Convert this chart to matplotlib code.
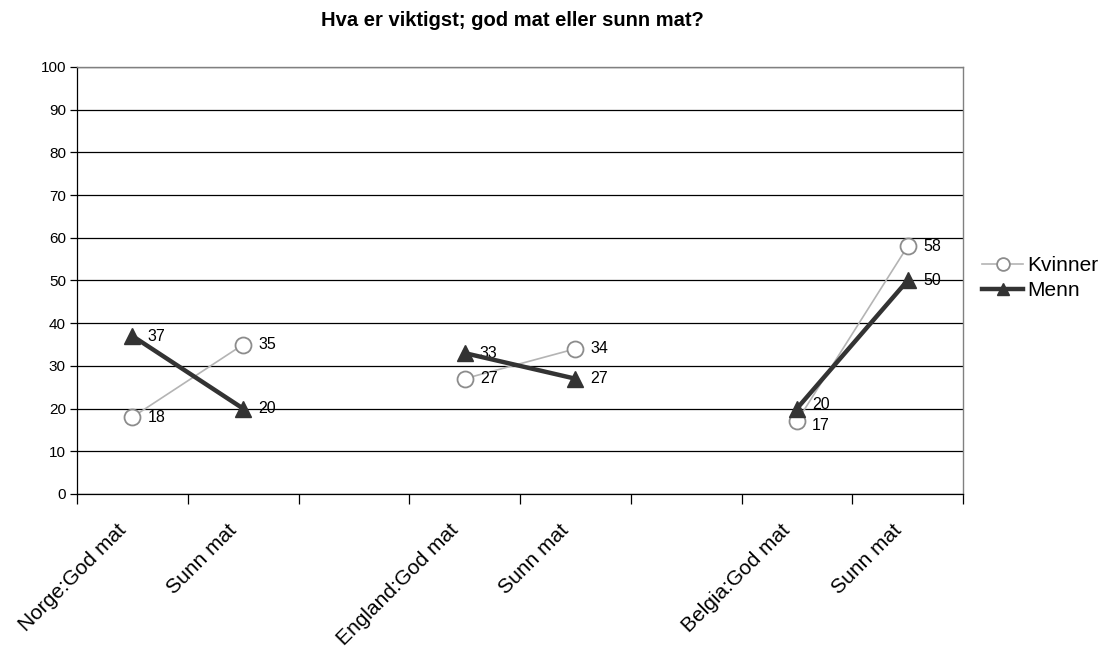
import numpy as np
import matplotlib
matplotlib.use("Agg")
from matplotlib import pyplot as plt
from matplotlib.transforms import ScaledTranslation

plt.rcParams['font.family'] = ['Liberation Sans', 'DejaVu Sans']

categories = ["Norge:God mat", "Sunn mat", "", "England:God mat", "Sunn mat", "",
              "Belgia:God mat", "Sunn mat"]
kvinner = [18, 35, np.nan, 27, 34, np.nan, 17, 58]
menn = [37, 20, np.nan, 33, 27, np.nan, 20, 50]
title = "Hva er viktigst; god mat eller sunn mat?"

x = np.arange(len(categories))

fig = plt.figure(figsize=(11.05, 6.53), dpi=100)
ax = fig.add_axes([0.0697, 0.2435, 0.8018, 0.6539])

ax.plot(x, kvinner, color="#b4b4b4", lw=1.2, marker="o", ms=11.5,
        mfc="white", mec="#8c8c8c", mew=1.3, label="Kvinner", zorder=3)
ax.plot(x, menn, color="#333333", lw=3.2, marker="^", ms=11.5,
        mfc="#333333", mec="#333333", label="Menn", zorder=4)

# data labels
for xi, v in zip(x, kvinner):
    if not np.isnan(v):
        dy = -3 if xi == 6 else 0
        ax.annotate(str(int(v)), (xi, v), xytext=(11, dy), textcoords="offset points",
                    va="center", ha="left", fontsize=11.5)
for xi, v in zip(x, menn):
    if not np.isnan(v):
        dy = 3 if xi == 6 else 0
        ax.annotate(str(int(v)), (xi, v), xytext=(11, dy), textcoords="offset points",
                    va="center", ha="left", fontsize=11.5)

ax.set_xlim(-0.5, len(categories) - 0.5)
ax.set_ylim(0, 100)
ax.set_yticks(np.arange(0, 101, 10))
ax.yaxis.grid(True, color="black", lw=0.9)
ax.set_axisbelow(True)
ax.tick_params(axis="y", direction="out", length=5, width=0.9, labelsize=11, pad=3)

ax.set_xticks(np.arange(-0.5, len(categories), 1.0))
ax.set_xticklabels([])
ax.tick_params(axis="x", which="major", direction="out", length=7, width=0.9)
ax.set_xticks(x, minor=True)
ax.set_xticklabels(categories, minor=True, rotation=45, ha="right",
                   rotation_mode="anchor", fontsize=15)
ax.tick_params(axis="x", which="minor", length=0, pad=19)
shift = ScaledTranslation(-16 / 100, 0, fig.dpi_scale_trans)
for lab in ax.get_xticklabels(minor=True):
    lab.set_transform(lab.get_transform() + shift)

for s in ["left", "bottom"]:
    ax.spines[s].set_color("black")
    ax.spines[s].set_linewidth(0.9)
for s in ["right", "top"]:
    ax.spines[s].set_color("#808080")
    ax.spines[s].set_linewidth(1.0)

fig.text(0.464, 0.968, title, ha="center", va="center", fontsize=14.5, fontweight="bold")

ax.legend(loc="center left", bbox_to_anchor=(1.0, 0.505), frameon=False,
          fontsize=15, handlelength=2.0, handletextpad=0.2, labelspacing=0.3,
          markerscale=0.8)

fig.savefig("out.png", dpi=100)
